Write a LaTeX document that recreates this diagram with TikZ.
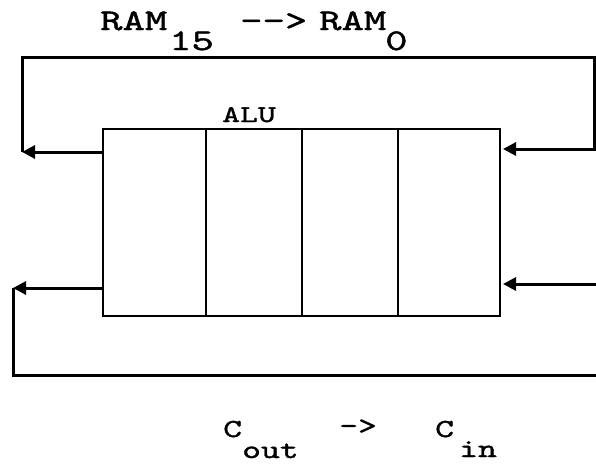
\documentclass[tikz,border=0pt]{standalone}
\usepackage{fontspec}
\usetikzlibrary{arrows.meta}
\newfontfamily\twa[FakeStretch=1.42,FakeBold=1.5]{lmmono10-regular.otf}
\newfontfamily\twb[FakeStretch=1.38,FakeBold=1.3]{lmmono10-regular.otf}
\begin{document}
\begin{tikzpicture}[x=1pt,y=-1pt,
  wire/.style={line width=3pt},
  tip/.style={-{Triangle[length=13pt,width=13pt]}},
  cell/.style={draw,line width=2.8pt,outer sep=0pt,minimum height=187pt,inner sep=0pt,anchor=north west},
  lbl/.style={inner sep=0pt,anchor=base west,font=\twa\fontsize{30}{30}\selectfont},
  lblb/.style={inner sep=0pt,anchor=base west,font=\twb\fontsize{26}{26}\selectfont}]
\useasboundingbox (0,0) rectangle (596,464);
% ALU cells
\node[cell,minimum width=103pt] (c1) at (103,129) {};
\node[cell,minimum width=96pt] (c2) at (c1.north east) {};
\node[cell,minimum width=96pt] (c3) at (c2.north east) {};
\node[cell,minimum width=102pt] (c4) at (c3.north east) {};
% labels
\node[lbl] (ram15) at (100,30) {RAM};
\node[lbl] (sub15) at (169,50) {15};
\node[lbl] (arr1) at (240,30) {-->};
\node[lbl] (ram0) at (319,30) {RAM};
\node[lbl] (sub0) at (385,50) {0};
\node[lbl,font=\twa\fontsize{24}{24}\selectfont] (alu) at (222,122) {ALU};
\node[lblb] (cout) at (223,437) {C};
\node[lblb] (subout) at (242,458) {out};
\node[lblb] (arr2) at (339,434) {->};
\node[lblb] (cin) at (435,437) {C};
\node[lblb] (subin) at (459,457) {in};
% connector points
\coordinate (a1) at (c1.north west |- 0,152);
\coordinate (t1) at (22,152);
\coordinate (t2) at (22,57);
\coordinate (t3) at (594,57);
\coordinate (t4) at (594,149);
\coordinate (a2) at (c4.north east |- 0,149);
\coordinate (b1) at (c1.north west |- 0,288);
\coordinate (b2) at (13,288);
\coordinate (b3) at (13,375);
\coordinate (b4) at (596,375);
\coordinate (b5) at (596,284);
\coordinate (a3) at (c4.north east |- 0,284);
% connectors
\draw[wire,tip] (a1) -- (t1);
\draw[wire,tip] (t1) -- (t2) -- (t3) -- (t4) -- ([xshift=3pt]a2);
\draw[wire,tip] (b1) -- (b2);
\draw[wire] (b2) -- (b3) -- (b4);
\draw[wire,tip] (b5) -- ([xshift=3pt]a3);
\end{tikzpicture}
\end{document}
